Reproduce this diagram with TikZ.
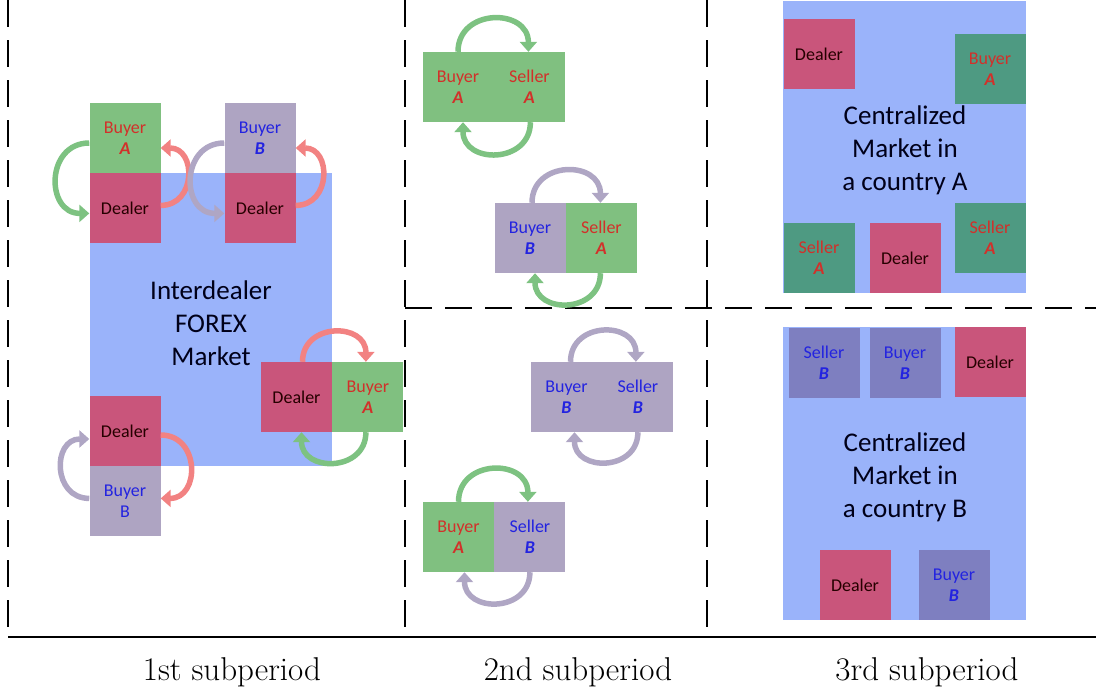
\documentclass[tikz,border=0pt]{standalone}
\usepackage{fontspec}
\setsansfont{Carlito}
\usetikzlibrary{arrows.meta,positioning}
\definecolor{mktblue}{HTML}{9AB3FA}
\definecolor{dlrpink}{HTML}{C9557B}
\definecolor{agreen}{HTML}{80C080}
\definecolor{bgrey}{HTML}{AEA4C2}
\definecolor{ateal}{HTML}{4E9A82}
\definecolor{bslate}{HTML}{7E7FC0}
\definecolor{txtA}{HTML}{D2302A}
\definecolor{txtB}{HTML}{2323E0}
\definecolor{arrred}{HTML}{F28282}
\definecolor{arrgreen}{HTML}{7DC281}
\definecolor{arrgrey}{HTML}{AFA6C4}
\newcommand{\ofA}[1]{#1\\\textbf{\textit{A}}}
\newcommand{\ofB}[1]{#1\\\textbf{\textit{B}}}
\tikzset{
  agent/.style={minimum width=71pt, minimum height=70pt, inner sep=0pt,
    align=center, font=\sffamily\fontsize{18}{21}\selectfont},
  dealerbox/.style={agent, fill=dlrpink, text=black!85!red},
  greenbox/.style={agent, fill=agreen},
  greybox/.style={agent, fill=bgrey},
  tealbox/.style={agent, fill=ateal},
  slatebox/.style={agent, fill=bslate},
  sideA/.style={text=txtA},
  sideB/.style={text=txtB},
  market/.style={fill=mktblue},
  bigtext/.style={align=center, text=black!90!blue,
    font=\sffamily\fontsize{27}{33}\selectfont},
  swap/.style={line width=5.5pt, -{Triangle[width=17pt,length=10pt]}},
  border/.style={line width=2.5pt, dash pattern=on 27pt off 13pt},
  caption/.style={font=\fontsize{33}{35}\selectfont}
}
\begin{document}
\begin{tikzpicture}[x=1pt,y=-1pt]
\useasboundingbox (0,0) rectangle (1096,696);
% frame
\draw[border] (8,0) -- (8,637);
\draw[border] (405,0) -- (405,637);
\draw[border] (707,0) -- (707,637);
\draw[border] (405,308) -- (1096,308);
\draw[line width=2.5pt] (8,637) -- (1096,637);

% 1st subperiod
\fill[market] (90,173) rectangle (332,466);
\node[bigtext] (fx) at (211,323) {Interdealer\\FOREX\\Market};
\node[greenbox, sideA] (bA1) at (125,138) {\ofA{Buyer}};
\node[dealerbox, below=0pt of bA1] (dl1) {Dealer};
\node[greybox, sideB] (bB1) at (260,138) {\ofB{Buyer}};
\node[dealerbox, below=0pt of bB1] (dl2) {Dealer};
\node[dealerbox] (dl3) at (296.5,397) {Dealer};
\node[greenbox, sideA, right=0pt of dl3] (bA3) {\ofA{Buyer}};
\node[dealerbox] (dl4) at (125,431) {Dealer};
\node[greybox, sideB, below=0pt of dl4] (bB4) {Buyer\\B};

\draw[swap, arrgreen] ([yshift=-5pt]bA1.west) to[out=180,in=180,looseness=1.6] ([yshift=-5pt]dl1.west);
\draw[swap, arrred] ([yshift=3pt]dl1.east) to[out=0,in=0,looseness=1.6] ([yshift=-10pt]bA1.east);
\draw[swap, arrgrey] ([yshift=-5pt]bB1.west) to[out=180,in=180,looseness=1.6] ([yshift=-5pt]dl2.west);
\draw[swap, arrred] ([yshift=3pt]dl2.east) to[out=0,in=0,looseness=1.6] ([yshift=-10pt]bB1.east);
\draw[swap, arrred] ([xshift=6pt]dl3.north) to[out=90,in=90,looseness=1.6] ([xshift=-2pt]bA3.north);
\draw[swap, arrgreen] ([xshift=-2pt]bA3.south) to[out=-90,in=-90,looseness=1.6] ([xshift=5pt]dl3.south);
\draw[swap, arrgrey] ([yshift=3pt]bB4.west) to[out=180,in=180,looseness=1.6] ([yshift=-8pt]dl4.west);
\draw[swap, arrred] ([yshift=-4pt]dl4.east) to[out=0,in=0,looseness=1.6] ([yshift=3pt]bB4.east);

% 2nd subperiod
\node[greenbox, sideA] (bA2) at (458,87) {\ofA{Buyer}};
\node[greenbox, sideA, right=0pt of bA2] (sA2) {\ofA{Seller}};
\node[greybox, sideB] (bB2) at (530,238) {\ofB{Buyer}};
\node[greenbox, sideA, right=0pt of bB2] (sA3) {\ofA{Seller}};
\node[greybox, sideB] (bB3) at (566.5,397) {\ofB{Buyer}};
\node[greybox, sideB, right=0pt of bB3] (sB3) {\ofB{Seller}};
\node[greenbox, sideA] (bA4) at (458.5,537) {\ofA{Buyer}};
\node[greybox, sideB, right=0pt of bA4] (sB4) {\ofB{Seller}};

\draw[swap, arrgreen] (bA2.north) to[out=90,in=90,looseness=1.6] ([xshift=-1pt]sA2.north);
\draw[swap, arrgreen] ([xshift=1pt]sA2.south) to[out=-90,in=-90,looseness=1.6] ([xshift=5pt]bA2.south);
\draw[swap, arrgrey] ([xshift=2pt]bB2.north) to[out=90,in=90,looseness=1.6] ([xshift=-1pt]sA3.north);
\draw[swap, arrgreen] ([xshift=-1pt]sA3.south) to[out=-90,in=-90,looseness=1.6] ([xshift=5pt]bB2.south);
\draw[swap, arrgrey] ([xshift=4pt]bB3.north) to[out=90,in=90,looseness=1.6] ([xshift=-2pt]sB3.north);
\draw[swap, arrgrey] (sB3.south) to[out=-90,in=-90,looseness=1.6] ([xshift=8pt]bB3.south);
\draw[swap, arrgreen] (bA4.north) to[out=90,in=90,looseness=1.6] ([xshift=-2pt]sB4.north);
\draw[swap, arrgrey] (sB4.south) to[out=-90,in=-90,looseness=1.6] ([xshift=6pt]bA4.south);

% 3rd subperiod
\fill[market] (783,1) rectangle (1026,293);
\node[bigtext] (cmA) at (905,150) {Centralized\\Market in\\a country A};
\node[dealerbox] (dl5) at (819,54) {Dealer};
\node[tealbox, sideA] (bA5) at (990,69) {\ofA{Buyer}};
\node[tealbox, sideA] (sA5) at (819,258) {\ofA{Seller}};
\node[dealerbox] (dl6) at (905,258) {Dealer};
\node[tealbox, sideA] (sA6) at (990,238) {\ofA{Seller}};

\fill[market] (783,327) rectangle (1026,620);
\node[bigtext] (cmB) at (905,477) {Centralized\\Market in\\a country B};
\node[slatebox, sideB] (sB7) at (824,363) {\ofB{Seller}};
\node[slatebox, sideB] (bB7) at (905,363) {\ofB{Buyer}};
\node[dealerbox] (dl7) at (990,362) {Dealer};
\node[dealerbox] (dl8) at (855,585) {Dealer};
\node[slatebox, sideB] (bB8) at (954,585) {\ofB{Buyer}};

% captions
\node[caption] (c1) at (232,672) {1st subperiod};
\node[caption] (c2) at (578,672) {2nd subperiod};
\node[caption] (c3) at (927,672) {3rd subperiod};
\end{tikzpicture}
\end{document}
